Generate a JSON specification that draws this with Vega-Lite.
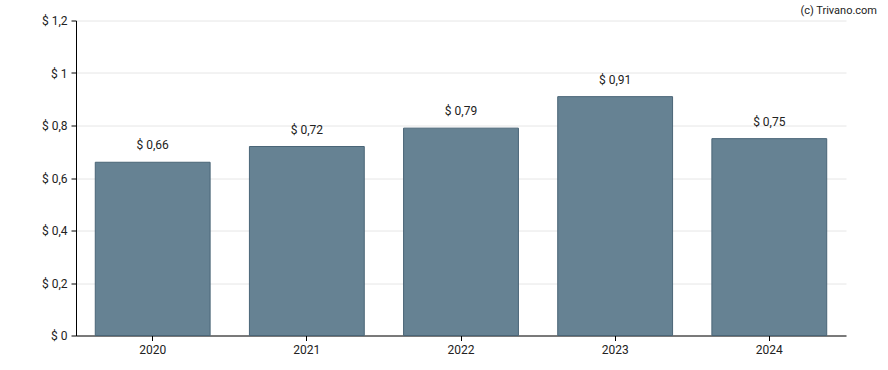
{
  "$schema": "https://vega.github.io/schema/vega-lite/v6.json",
  "autosize": "none",
  "width": 770,
  "height": 315,
  "padding": {"left": 76, "top": 20.5, "right": 42, "bottom": 34.5},
  "background": "white",
  "config": {
    "locale": {"number": {"decimal": ",", "thousands": ".", "grouping": [3], "currency": ["$ ", ""]}},
    "view": {"stroke": null},
    "font": "Roboto"
  },
  "title": {
    "text": "(c) Trivano.com",
    "anchor": "end",
    "orient": "top",
    "baseline": "bottom",
    "dx": 31,
    "offset": -12,
    "fontSize": 11,
    "fontWeight": "normal",
    "color": "#222222",
    "font": "Roboto"
  },
  "data": {
    "values": [
      {"year": "2020", "value": 0.66},
      {"year": "2021", "value": 0.72},
      {"year": "2022", "value": 0.79},
      {"year": "2023", "value": 0.91},
      {"year": "2024", "value": 0.75}
    ]
  },
  "encoding": {
    "x": {
      "field": "year",
      "type": "nominal",
      "scale": {"paddingInner": 0.255, "paddingOuter": 0.125},
      "axis": {
        "title": null,
        "labelAngle": 0,
        "domainColor": "#000000",
        "tickColor": "#000000",
        "tickSize": 5,
        "labelFontSize": 12,
        "labelColor": "#222222",
        "labelPadding": 4,
        "grid": false
      }
    },
    "y": {
      "field": "value",
      "type": "quantitative",
      "scale": {"domain": [0, 1.2], "nice": false},
      "axis": {
        "title": null,
        "values": [0, 0.2, 0.4, 0.6, 0.8, 1, 1.2],
        "format": "$.1~f",
        "domainColor": "#000000",
        "tickColor": "#000000",
        "tickSize": 5,
        "labelFontSize": 12,
        "labelColor": "#222222",
        "labelPadding": 4,
        "gridColor": "#e6e6e6"
      }
    }
  },
  "layer": [
    {
      "mark": {"type": "bar", "color": "#668293", "stroke": "#4a6577", "strokeWidth": 1}
    },
    {
      "mark": {"type": "text", "baseline": "bottom", "dy": -10, "fontSize": 12, "color": "#222222"},
      "encoding": {
        "text": {"field": "value", "type": "quantitative", "format": "$.2f"}
      }
    }
  ]
}
